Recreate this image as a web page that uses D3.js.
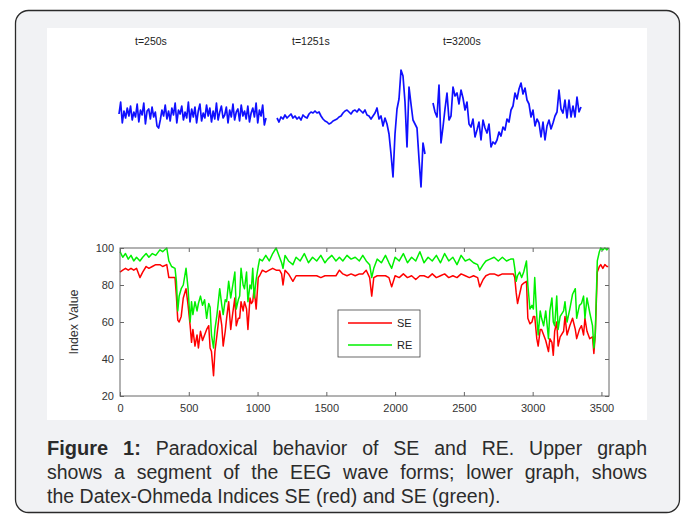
<!DOCTYPE html>
<html>
<head>
<meta charset="utf-8">
<script src="https://cdn.jsdelivr.net/npm/d3@7"></script>
<style>
  body { margin: 0; background: #fff; }
  svg { display: block; font-family: "Liberation Sans", Arial, sans-serif; }
</style>
</head>
<body>
<div id="figure"></div>
<script>
// index values (time in s)
const timeSec = [0, 20, 40, 60, 80, 100, 120, 145, 165, 190, 210, 235, 260, 290, 310, 340, 355, 375, 400, 410,
  420, 430, 445, 460, 480, 495, 510, 520, 530, 545, 560, 570, 585, 600, 615, 630, 645, 655, 665, 680,
  690, 705, 725, 740, 750, 765, 775, 790, 805, 820, 835, 845, 860, 870, 880, 895, 905, 920, 930, 945,
  955, 965, 975, 990, 1005, 1015, 1035, 1060, 1085, 1110, 1135, 1160, 1175, 1185, 1200, 1225, 1257, 1280, 1310, 1340,
  1370, 1400, 1430, 1460, 1490, 1510, 1540, 1570, 1595, 1620, 1650, 1680, 1710, 1740, 1765, 1790, 1815, 1830, 1845, 1870,
  1900, 1930, 1955, 1975, 2000, 2030, 2060, 2090, 2120, 2150, 2180, 2210, 2240, 2270, 2300, 2330, 2360, 2390, 2420, 2450,
  2480, 2510, 2540, 2570, 2600, 2615, 2640, 2660, 2690, 2720, 2750, 2780, 2810, 2840, 2860, 2870, 2880, 2890, 2905, 2920,
  2935, 2955, 2965, 2980, 2995, 3005, 3015, 3030, 3040, 3055, 3065, 3080, 3095, 3115, 3125, 3140, 3150, 3160, 3175, 3185,
  3200, 3225, 3235, 3250, 3270, 3290, 3310, 3320, 3340, 3355, 3370, 3380, 3395, 3415, 3435, 3445, 3455, 3470, 3485, 3495,
  3510, 3525, 3540, 3550];
const seValues = [87, 88, 89, 88, 89, 88, 89, 84, 87, 90, 89, 90, 91, 91, 90, 91, 84, 84, 84, 74,
  61, 60, 63, 73, 78, 69, 58, 49, 56, 47, 53, 46, 55, 50, 53, 56, 58, 46, 44, 31,
  44, 53, 66, 58, 47, 55, 62, 71, 56, 65, 73, 58, 62, 62, 71, 66, 71, 67, 56, 73,
  70, 71, 78, 67, 84, 85, 88, 87, 88, 89, 88, 88, 86, 80, 88, 86, 82, 85, 85, 85,
  85, 85, 85, 84, 85, 85, 85, 85, 88, 86, 85, 86, 85, 86, 86, 88, 84, 74, 84, 85,
  85, 85, 84, 79, 85, 84, 86, 84, 85, 83, 85, 85, 84, 86, 84, 85, 86, 84, 85, 84,
  86, 85, 84, 85, 84, 79, 83, 85, 86, 86, 85, 86, 86, 86, 86, 84, 76, 70, 75, 80,
  81, 82, 62, 59, 60, 63, 63, 51, 47, 56, 56, 53, 50, 44, 51, 49, 42, 55, 60, 47,
  52, 55, 63, 53, 58, 62, 56, 51, 56, 58, 53, 62, 55, 51, 52, 43, 53, 87, 90, 91,
  89, 91, 90, 90];
const reValues = [98, 95, 97, 94, 96, 93, 95, 93, 95, 97, 95, 97, 96, 99, 98, 100, 93, 90, 89, 82,
  66, 74, 78, 80, 89, 78, 60, 71, 64, 71, 66, 70, 74, 69, 72, 62, 70, 68, 53, 46,
  56, 64, 78, 69, 64, 72, 71, 82, 73, 80, 87, 67, 72, 74, 89, 80, 78, 87, 71, 80,
  78, 89, 73, 83, 90, 94, 93, 96, 93, 97, 100, 95, 92, 89, 96, 93, 91, 95, 93, 97,
  92, 95, 93, 96, 92, 94, 96, 93, 95, 93, 96, 94, 95, 93, 96, 93, 91, 84, 89, 94,
  92, 96, 92, 89, 95, 93, 97, 92, 95, 93, 98, 92, 95, 93, 96, 92, 97, 93, 95, 91,
  96, 93, 94, 92, 91, 88, 91, 93, 94, 95, 93, 95, 93, 94, 94, 89, 82, 85, 87, 84,
  87, 93, 80, 67, 69, 67, 84, 63, 53, 66, 62, 58, 66, 51, 66, 73, 60, 58, 74, 56,
  63, 66, 71, 60, 67, 75, 78, 62, 69, 70, 74, 62, 73, 65, 58, 46, 53, 93, 98, 100,
  99, 100, 99, 100];

// EEG segments (relative amplitude)
const eegSeg1 = [0, 12, -9, 3, -4, 6, -2, 8, -6, 2, -3, 10, -8, 4, -1, 11, -10, 3, 5, -5,
  7, -3, 2, -12, -14, -6, 4, -2, 9, -5, 3, -7, 6, -1, 11, -9, 4, 0, 8, -6,
  2, -4, 12, -8, 5, -3, 7, -9, 3, 10, -7, 1, -4, 9, -2, 6, -8, 3, -5, 11,
  -6, 2, 8, -4, -1, 7, -9, 4, -3, 10, -6, 2, 5, -7, 9, -2, 3, -5, 8, -8,
  1, 6, -3, 11, -9, 4, -2, 9, -11, -4];
const eegSeg2 = [-4, -8, -3, -5, -1, -4, -2, 0, -4, -2, -5, -3, -6, -1, -3, -4, 0, 2, 1, 3,
  1, 2, -2, -5, -7, -8, -10, -9, -7, -6, -5, -3, -2, 1, 3, 4, 2, 0, 3, 4,
  2, 5, 3, 1, 4, -1, -2, -5, -2, 1, 6, -5, -2, -12, -4, -10, -20, -40, -63, -20,
  5, 15, 44, 38, 12, -33, 27, 10, -6, -10, -14, -45, -73, -29, -40];
const eegSeg3 = [11, 2, -3, 29, -29, -13, 5, 21, -6, -2, 27, 18, 21, 10, 24, 16, 4, 12, -10, -13,
  -5, -23, -16, -8, -26, -6, -14, -19, -10, -33, -28, -30, -26, -18, -22, -13, -16, -5, -8, 4,
  8, 21, 15, 25, 31, 20, 26, 14, 10, -3, 4, -12, -5, -9, -23, -8, -26, -12, -6, -15,
  -9, -2, 2, 24, 5, 1, 14, -4, 14, -3, 8, -3, 17, 2, 7];
const eegLabels = ['t=250s', 't=1251s', 't=3200s'];

const xTicks = [0, 500, 1000, 1500, 2000, 2500, 3000, 3500];
const yTicks = [20, 40, 60, 80, 100];
const seriesNames = ['SE', 'RE'];
const seriesColors = ['#ff0000', '#00f000'];
const captionLines = [
  ['Figure 1:', 'Paradoxical behavior of SE and RE. Upper graph'],
  ['', 'shows a segment of the EEG wave forms; lower graph, shows'],
  ['', 'the Datex-Ohmeda Indices SE (red) and SE (green).'],
];

const width = 684;
const height = 514;

const $svg = d3.select('#figure').append('svg')
  .attr('width', width)
  .attr('height', height);

// card + white picture area
$svg.append('rect')
  .attr('x', 15.5).attr('y', 10.5)
  .attr('width', 664).attr('height', 502)
  .attr('rx', 13)
  .attr('fill', '#f1f2f4')
  .attr('stroke', '#2a2a2a')
  .attr('stroke-width', 1.3);

$svg.append('rect')
  .attr('x', 47).attr('y', 28)
  .attr('width', 600).attr('height', 392)
  .attr('fill', '#fff');

// ---- upper graph: EEG wave forms
const eegY = d3.scaleLinear().domain([-80, 50]).range([194, 64]);
const eegSegs = [
  { values: eegSeg1, x0: 119, x1: 266 },
  { values: eegSeg2, x0: 277, x1: 425 },
  { values: eegSeg3, x0: 433, x1: 581 },
];
const $eeg = $svg.append('g').attr('class', 'g-eeg');
eegSegs.forEach(seg => {
  const segX = d3.scaleLinear().domain([0, seg.values.length - 1]).range([seg.x0, seg.x1]);
  $eeg.append('path')
    .datum(seg.values)
    .attr('fill', 'none')
    .attr('stroke', '#1010ff')
    .attr('stroke-width', 1.7)
    .attr('stroke-linejoin', 'round')
    .attr('d', d3.line().x((d, i) => segX(i)).y(d => eegY(d)));
});
const labelX = [135, 292, 443];
$eeg.selectAll('text.eeg-label')
  .data(eegLabels)
  .join('text')
  .attr('class', 'eeg-label')
  .attr('x', (d, i) => labelX[i])
  .attr('y', 45)
  .attr('font-size', 10.5)
  .attr('fill', '#222')
  .text(d => d);

// ---- lower graph: indices
const scaleX = d3.scaleLinear().domain([0, 3555]).range([120, 609]);
const scaleY = d3.scaleLinear().domain([20, 100]).range([396, 248]);
const $g = $svg.append('g').attr('class', 'g-index');

const styleAxis = sel => {
  sel.select('.domain').remove();
  sel.selectAll('line').attr('stroke', '#666');
  sel.selectAll('text').attr('fill', '#333').attr('font-size', 11)
    .attr('font-family', '"Liberation Sans", Arial, sans-serif');
};

$g.append('g').attr('transform', `translate(0,${scaleY(20)})`)
  .call(d3.axisBottom(scaleX).tickValues(xTicks).tickFormat(d3.format('d'))
    .tickSizeInner(-4).tickSizeOuter(0).tickPadding(8))
  .call(styleAxis);
$g.append('g').attr('transform', `translate(0,${scaleY(100)})`)
  .call(d3.axisTop(scaleX).tickValues(xTicks).tickSizeInner(-4).tickSizeOuter(0).tickFormat(''))
  .call(styleAxis);
$g.append('g').attr('transform', `translate(${scaleX(0)},0)`)
  .call(d3.axisLeft(scaleY).tickValues(yTicks).tickSizeInner(-4).tickSizeOuter(0).tickPadding(6))
  .call(styleAxis);
$g.append('g').attr('transform', `translate(${scaleX.range()[1]},0)`)
  .call(d3.axisRight(scaleY).tickValues(yTicks).tickSizeInner(-4).tickSizeOuter(0).tickFormat(''))
  .call(styleAxis);

const line = d3.line().x((d, i) => scaleX(timeSec[i])).y(d => scaleY(d));
[seValues, reValues].forEach((vals, k) => {
  $g.append('path')
    .datum(vals)
    .attr('fill', 'none')
    .attr('stroke', seriesColors[k])
    .attr('stroke-width', 1.5)
    .attr('stroke-linejoin', 'round')
    .attr('d', line);
});

$g.append('rect')
  .attr('x', scaleX.range()[0]).attr('y', scaleY(100))
  .attr('width', scaleX.range()[1] - scaleX.range()[0])
  .attr('height', scaleY(20) - scaleY(100))
  .attr('fill', 'none')
  .attr('stroke', '#666')
  .attr('stroke-width', 1);

$g.append('text')
  .attr('transform', `translate(78,${scaleY(60)}) rotate(-90)`)
  .attr('text-anchor', 'middle')
  .attr('font-size', 12.5)
  .attr('fill', '#333')
  .text('Index Value');

// legend
const $legend = $g.append('g').attr('transform', 'translate(338,310)');
$legend.append('rect')
  .attr('width', 82).attr('height', 47)
  .attr('fill', '#fff')
  .attr('stroke', '#444')
  .attr('stroke-width', 0.8);
seriesNames.forEach((name, k) => {
  const y = 13 + k * 22;
  $legend.append('line')
    .attr('x1', 10).attr('x2', 54).attr('y1', y).attr('y2', y)
    .attr('stroke', seriesColors[k]).attr('stroke-width', 1.5);
  $legend.append('text')
    .attr('x', 59).attr('y', y + 4)
    .attr('font-size', 11).attr('fill', '#222')
    .text(name);
});

// ---- caption, justified across the picture width
const capX0 = 47;
const capX1 = 647;
const capFont = 19.5;
const $cap = $svg.append('g').attr('class', 'g-caption');
captionLines.forEach((parts, li) => {
  const y = 455 + li * 24;
  const words = [];
  if (parts[0]) parts[0].split(' ').forEach(w => words.push({ t: w, bold: true }));
  parts[1].split(' ').forEach(w => words.push({ t: w, bold: false }));
  const nodes = words.map(w => $cap.append('text')
    .attr('y', y)
    .attr('font-size', w.bold ? capFont + 0.5 : capFont)
    .attr('font-weight', w.bold ? 'bold' : 'normal')
    .attr('fill', '#2b2b2b')
    .text(w.t));
  const widths = nodes.map(n => n.node().getComputedTextLength());
  const total = d3.sum(widths);
  const justify = li < captionLines.length - 1;
  const gap = justify ? (capX1 - capX0 - total) / (words.length - 1) : capFont * 0.28;
  let x = capX0;
  nodes.forEach((n, i) => {
    n.attr('x', x);
    x += widths[i] + gap;
  });
});
</script>
</body>
</html>
